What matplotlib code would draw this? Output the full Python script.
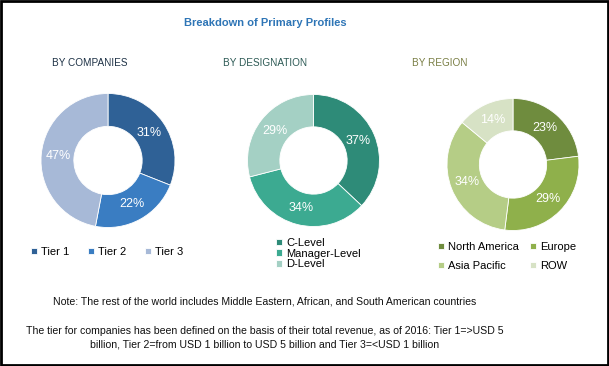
import matplotlib
matplotlib.use('Agg')
import matplotlib.pyplot as plt
from matplotlib.patches import Rectangle

# data
company_labels = ['Tier 1', 'Tier 2', 'Tier 3']
company_share = [31, 22, 47]
company_colors = ['#2F6196', '#3A7DC2', '#A7B9D7']

designation_labels = ['C-Level', 'Manager-Level', 'D-Level']
designation_share = [37, 34, 29]
designation_colors = ['#2E8B78', '#3CAA91', '#A4D0C4']

region_labels = ['North America', 'Europe', 'Asia Pacific', 'ROW']
region_share = [23, 29, 34, 14]
region_colors = ['#6F8C3E', '#8FB04B', '#B5CD86', '#D7E2C5']

W, H = 609, 366
fig = plt.figure(figsize=(W / 100, H / 100), dpi=100)
ax = fig.add_axes([0, 0, 1, 1])

txt_font = ['Liberation Sans', 'DejaVu Sans']


def donut(vals, colors, cx, cy, r):
    wedges, _, autotexts = ax.pie(vals, colors=colors, center=(cx, H - cy), radius=r,
                                  startangle=90, counterclock=False,
                                  autopct='%d%%', pctdistance=0.74,
                                  wedgeprops=dict(width=r * 0.49, edgecolor='white', linewidth=0.6),
                                  textprops=dict(color='white', fontsize=9, family=txt_font))
    return wedges


w1 = donut(company_share, company_colors, 108, 160.5, 67)
w2 = donut(designation_share, designation_colors, 313.5, 160.5, 66)
w3 = donut(region_share, region_colors, 513, 164.5, 66)

ax.set_xlim(0, W)
ax.set_ylim(0, H)
ax.set_aspect('auto')
ax.axis('off')

# titles
fig.text(265 / W, 1 - 23 / H, 'Breakdown of Primary Profiles', ha='center', va='center',
         fontsize=8, fontweight='bold', color='#2E75B6', family=txt_font)
for x, t, c in [(89.5, 'BY COMPANIES', '#1E3246'), (265, 'BY DESIGNATION', '#2D5A55'),
                (440, 'BY REGION', '#7A7F45')]:
    fig.text(x / W, 1 - 63 / H, t, ha='center', va='center', fontsize=7.2, color=c, family=txt_font)

leg_kw = dict(frameon=False, handlelength=0.55, handleheight=0.55, handletextpad=0.35,
              borderpad=0, borderaxespad=0, prop=dict(family=txt_font, size=8))

fig.legend(w1, company_labels, loc='center left', bbox_to_anchor=(31 / W, 1 - 252 / H),
           ncol=3, columnspacing=1.7, **leg_kw)
fig.legend(w2, designation_labels, loc='upper left', bbox_to_anchor=(276 / W, 1 - 238 / H),
           ncol=1, labelspacing=0.05, **leg_kw)
# row-major order: North America, Europe / Asia Pacific, ROW
order = [0, 2, 1, 3]
fig.legend([w3[i] for i in order], [region_labels[i] for i in order], loc='upper left',
           bbox_to_anchor=(438 / W, 1 - 242 / H), ncol=2, labelspacing=0.8,
           columnspacing=1.0, **leg_kw)

# notes
fig.text(265 / W, 1 - 302 / H,
         'Note: The rest of the world includes Middle Eastern, African, and South American countries',
         ha='center', va='center', fontsize=7.6, color='#111111', family=txt_font)
fig.text(265 / W, 1 - 337.5 / H,
         'The tier for companies has been defined on the basis of their total revenue, as of 2016: Tier 1=>USD 5\n'
         'billion, Tier 2=from USD 1 billion to USD 5 billion and Tier 3=<USD 1 billion',
         ha='center', va='center', fontsize=7.6, color='#111111', family=txt_font, linespacing=1.45)

# border
fig.patches.append(Rectangle((0.001, 0.002), 0.997, 0.996, transform=fig.transFigure,
                             fill=False, edgecolor='black', linewidth=2))

fig.savefig('out.png', dpi=100)
